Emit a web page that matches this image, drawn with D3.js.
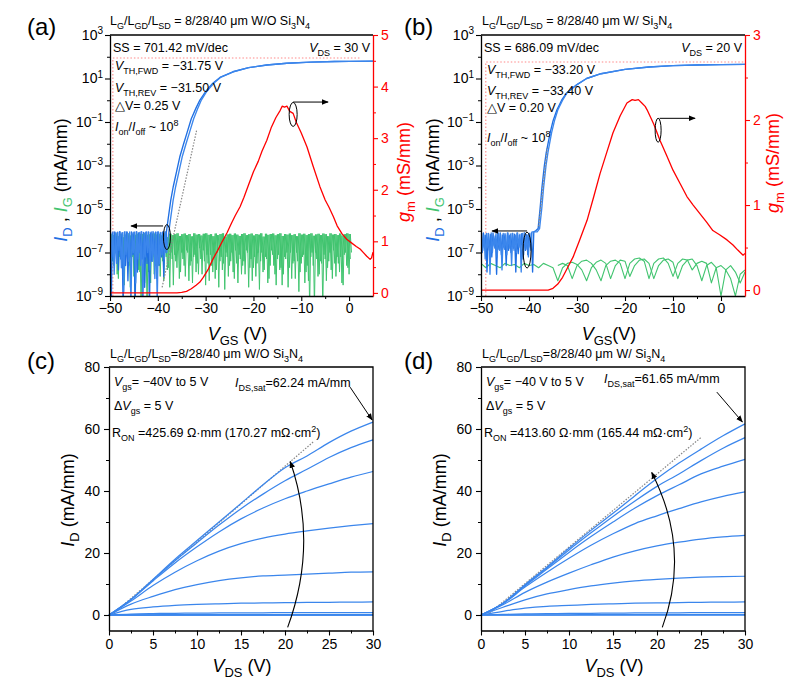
<!DOCTYPE html>
<html>
<head>
<meta charset="utf-8">
<script src="https://cdn.jsdelivr.net/npm/d3@7"></script>
<style>
  body { margin: 0; background: #fff; }
  svg { font-family: "Liberation Sans", Arial, sans-serif; }
</style>
</head>
<body>
<svg id="fig" width="809" height="684"></svg>
<script>
// ---------- data (log10 of current in mA/mm, gm in mS/mm) ----------
// (a) W/O Si3N4, VDS = 30 V
const idA_noiseFwd = [-6.05,-9.5,-6.1,-7.4,-6.05,-7.0,-6.08,-7.8,-6.04,-7.3,-6.1,-9.5,-6.06,-7.6,-6.05,-8.3,-6.12,-7.2,-6.05,-7.1,-6.07,-9.5,-6.04,-7.9,
  -6.1,-7.0,-6.05,-7.3,-6.08,-8.6,-6.06,-7.5,-6.05,-9.5,-6.1,-7.4,-6.04,-7.1,-6.07,-8.2,-6.05,-7.6,-6.1,-7.2,-6.06,-8.1,-6.05,-7.0];
const idA_noiseRev = [-6.08,-7.2,-6.05,-8.0,-6.1,-7.5,-6.06,-6.9,-6.05,-7.7,-6.09,-8.8,-6.04,-7.1,-6.07,-7.4,-6.05,-9.5,-6.1,-7.0,-6.06,-8.4,-6.05,-7.3,
  -6.08,-7.6,-6.04,-9.5,-6.1,-7.2,-6.05,-7.0,-6.07,-7.8,-6.05,-7.4,-6.1,-8.2,-6.06,-9.3,-6.05,-7.5,-6.08,-7.1,-6.05,-7.3,-6.06,-7.0];
const idA_riseFwd = [[-38.2,-6.05],[-37.8,-5.4],[-37.3,-4.6],[-36.8,-4.0],[-36,-3.2],[-35.4,-2.6],[-34.6,-2.0],[-33.9,-1.5],[-33,-0.85],[-32,-0.35],
  [-31.2,0.01],[-30,0.4],[-28.5,0.78],[-27,1.05],[-24.3,1.31],[-21,1.5],[-17.2,1.62],[-13,1.7],[-8,1.75],[-3,1.78],[0,1.79],[5,1.8]];
const idA_riseRev = [[-37.7,-6.05],[-37.3,-5.4],[-36.8,-4.6],[-36.3,-4.0],[-35.5,-3.2],[-34.9,-2.6],[-34.1,-2.0],[-33.4,-1.5],[-32.5,-0.85],[-31.6,-0.35],
  [-30.9,0.01],[-29.8,0.4],[-28.3,0.78],[-26.9,1.05],[-24.2,1.31],[-21,1.5],[-17.2,1.62],[-13,1.7],[-8,1.75],[-3,1.78],[0,1.79],[5,1.8]];
const igA_top = [-6.15,-6.2,-6.12,-6.25,-6.15,-6.3,-6.18,-6.12,-6.22,-6.16,
  -6.2,-6.14,-6.28,-6.15,-6.12,-6.2,-6.17,-6.25,-6.13,-6.18,
  -6.15,-6.22,-6.12,-6.18,-6.3,-6.14,-6.2,-6.16,-6.12,-6.24,
  -6.16,-6.13,-6.2,-6.15,-6.26,-6.12,-6.18,-6.15,-6.22,-6.14,
  -6.12,-6.19,-6.16,-6.25,-6.13,-6.2,-6.15,-6.12,-6.28,-6.17,
  -6.14,-6.2,-6.13,-6.18,-6.24,-6.15,-6.12,-6.2,-6.16,-6.13,
  -6.22,-6.15,-6.18,-6.12,-6.27,-6.14,-6.19,-6.15,-6.13,-6.21,
  -6.16,-6.12,-6.24,-6.15,-6.18,-6.13,-6.2,-6.16,-6.25,-6.12,
  -6.18,-6.14,-6.2,-6.15,-6.12,-6.23,-6.17,-6.14,-6.2,-6.13,
  -6.16,-6.25,-6.12,-6.18,-6.15,-6.2,-6.13,-6.22,-6.16,-6.12,-6.15];
const igA_botFwd = [-7.0,-7.6,-6.9,-8.2,-7.3,-7.8,-6.8,-7.5,-8.6,-7.2,
  -9.5,-7.1,-7.9,-6.9,-8.4,-9.5,-7.4,-7.0,-8.0,-7.3,
  -7.6,-6.8,-8.3,-7.2,-7.7,-7.0,-8.5,-7.4,-6.9,-7.9,
  -7.3,-8.1,-7.0,-7.6,-8.4,-7.1,-7.5,-6.8,-8.0,-7.4,
  -7.1,-8.3,-7.6,-6.9,-7.8,-8.6,-7.2,-7.5,-7.0,-8.1,
  -7.4,-7.9,-6.9,-8.4,-7.3,-7.6,-8.0,-7.0,-7.7,-8.3,
  -7.2,-7.5,-8.7,-7.0,-7.8,-7.3,-8.2,-6.9,-7.6,-8.5,
  -7.1,-7.7,-8.0,-7.3,-8.6,-7.0,-7.5,-8.2,-7.4,-7.9,
  -7.2,-8.4,-7.6,-9.5,-7.0,-9.5,-7.3,-8.0,-7.5,-7.1,
  -8.3,-7.4,-7.8,-6.9,-8.1,-7.5,-7.2,-8.5,-7.0,-7.7,
  -7.3,-8.0,-7.5,-6.9,-8.2,-7.4,-7.8,-7.1,-8.4,-7.6];
const igA_botRev = [-7.4,-6.9,-8.0,-7.2,-7.7,-8.5,-7.0,-7.6,-7.3,-8.1,
  -7.1,-7.8,-9.5,-7.3,-7.0,-7.9,-8.4,-7.2,-7.6,-6.9,
  -8.1,-7.4,-7.0,-7.8,-8.6,-7.3,-7.1,-7.7,-8.2,-7.0,
  -7.6,-6.9,-8.3,-7.4,-7.2,-7.9,-8.0,-7.3,-6.9,-8.5,
  -7.5,-7.1,-7.9,-8.2,-7.0,-7.4,-7.8,-8.7,-7.2,-7.6,
  -7.0,-8.2,-7.5,-7.1,-8.0,-7.4,-6.9,-8.6,-7.3,-7.7,
  -8.1,-7.0,-7.4,-7.9,-7.2,-8.4,-7.6,-7.1,-8.0,-7.3,
  -7.8,-8.5,-7.2,-7.0,-7.7,-8.2,-7.4,-7.0,-8.8,-7.5,
  -7.1,-7.9,-8.3,-7.2,-7.6,-7.0,-8.1,-7.4,-9.5,-7.3,
  -7.7,-7.0,-8.2,-7.5,-7.2,-7.9,-8.4,-7.1,-7.6,-8.0,
  -7.0,-7.5,-8.1,-7.3,-7.7,-7.0,-8.3,-7.4,-7.2,-7.9];
const gmA = [[-50,0],[-36,0],[-35,0.01],[-34,0.03],[-33,0.08],[-32,0.15],[-31.2,0.21],[-30.5,0.3],[-29.5,0.45],[-28.5,0.65],[-27.5,0.82],
  [-26.5,1.0],[-25.5,1.17],[-24.6,1.35],[-23.8,1.5],[-22.8,1.67],[-22,1.85],[-21,2.1],[-20,2.35],[-19,2.55],[-18.2,2.75],[-17.2,2.96],
  [-16.3,3.2],[-15.3,3.4],[-14.4,3.54],[-14,3.62],[-13.5,3.6],[-13,3.62],[-12.4,3.52],[-11.7,3.48],[-11,3.3],[-10,3.1],[-8.8,2.83],
  [-7.5,2.45],[-6.1,2.06],[-5,1.8],[-4.2,1.66],[-3.3,1.48],[-2.5,1.3],[-1.5,1.15],[-0.5,1.04],[0.5,0.97],[1.5,0.9],[2.3,0.85],
  [3,0.78],[3.7,0.71],[4.4,0.65],[4.7,0.68],[5,0.79]];
const ssLineA = [[-39.1,-8.6],[-31.9,-1.4]];
const ionGuideA = [[-49.4,-9],[-49.4,1.94],[2.3,1.94]];

// (b) W/ Si3N4, VDS = 20 V
const idB_noiseFwd = [-6.15,-7.0,-6.1,-6.8,-6.2,-7.9,-6.12,-6.9,-6.18,-7.2,-6.1,-6.7,-6.25,-8.0,-6.15,-6.85,-6.1,-7.1,-6.2,-6.75,-6.14,-7.6,
  -6.1,-6.9,-6.22,-7.0,-6.12,-6.8,-6.16,-7.9,-6.1,-7.05,-6.2,-6.8,-6.13,-7.3,-6.1,-6.9,-6.18,-7.1,-6.12,-6.75,-6.1,-7.9,-6.05];
const idB_noiseRev = [-6.1,-6.9,-6.2,-7.3,-6.12,-6.75,-6.15,-8.0,-6.1,-7.0,-6.22,-6.8,-6.13,-7.2,-6.1,-6.9,-6.18,-7.8,-6.12,-6.85,-6.2,-7.1,
  -6.1,-6.8,-6.15,-7.6,-6.12,-6.9,-6.2,-7.0,-6.1,-6.75,-6.16,-7.9,-6.12,-7.1,-6.1,-6.85,-6.2,-7.2,-6.12,-6.9,-6.05];
const idB_riseFwd = [[-38.6,-6.0],[-38.1,-5.9],[-37.7,-5.0],[-37.3,-4.0],[-36.8,-3.0],[-36.4,-2.4],[-35.6,-1.5],[-35,-0.95],[-34.2,-0.45],
  [-33.2,0.0],[-32.2,0.33],[-30,0.72],[-28,1.0],[-25,1.22],[-20,1.42],[-15,1.53],[-10,1.59],[-5,1.62],[0,1.64],[5,1.65]];
const idB_riseRev = [[-38.3,-6.05],[-37.8,-5.9],[-37.35,-5.0],[-36.95,-4.0],[-36.45,-3.0],[-36.05,-2.4],[-35.3,-1.5],[-34.7,-0.95],[-34.0,-0.45],
  [-33.0,0.0],[-32.1,0.33],[-30,0.72],[-28,1.0],[-25,1.22],[-20,1.42],[-15,1.53],[-10,1.59],[-5,1.62],[0,1.64],[5,1.65]];
const igB_fwd = [-7.5,-7.7,-7.5,-7.6,-7.7,-7.5,-7.6,-7.55,-7.7,-7.5,
  -7.6,-7.55,-7.7,-7.5,-7.6,-7.7,-8.3,-7.7,-7.5,-7.45,
  -7.55,-7.8,-8.3,-7.7,-7.45,-7.35,-7.5,-8.2,-7.6,-7.35,
  -7.4,-8.1,-7.6,-7.35,-7.3,-7.5,-8.2,-7.6,-7.35,-7.3,
  -7.45,-8.2,-7.6,-7.35,-7.3,-7.6,-8.3,-7.6,-7.45,-7.7,
  -9.0,-7.8,-7.6,-7.9,-8.4,-7.9];
const igB_rev = [-7.6,-7.5,-7.6,-8.2,-7.6,-7.4,-7.35,-7.5,-7.8,-8.3,-7.6,-7.4,-7.35,-7.5,-8.2,-7.5,-7.3,-7.25,-7.4,-8.2,
  -7.5,-7.3,-7.25,-7.5,-8.1,-7.5,-7.3,-7.35,-7.8,-7.5,-7.4,-7.5,-8.4,-7.7,-7.6,-7.8,-8.2,-9.0,-8.0,-7.8];
const gmB = [[-50,0],[-36,0],[-35,0.02],[-34,0.07],[-33,0.15],[-32,0.26],[-30.8,0.39],[-29.5,0.58],[-27.9,0.82],[-26.5,1.1],[-25.2,1.37],
  [-23.8,1.62],[-22.5,1.85],[-21,2.05],[-19.6,2.2],[-18.5,2.24],[-17.9,2.23],[-17.2,2.24],[-16.5,2.2],[-15.8,2.16],[-15.4,2.12],[-14,1.95],
  [-12.7,1.76],[-11.3,1.58],[-10,1.41],[-8.5,1.25],[-7.1,1.1],[-5.8,1.0],[-4.4,0.9],[-3,0.8],[-1.7,0.7],[-0.3,0.65],[1.25,0.59],
  [2.5,0.53],[3.5,0.47],[4.6,0.41],[5,0.43]];
const ssLineB = [[-38.0,-5.8],[-36.2,-2.2]];
const ionGuideB = [[-49,-9],[-49,1.76],[5,1.76]];

// (c), (d) output curves, VGS = 5 V (top) down to -40 V
const vdsPts = [0,2.5,5,7.5,10,12.5,15,17.5,20,22.5,25,27.5,30];
const idOutC = [
  [0,5,11.5,18,24,30,36,42,47.5,51.3,55.6,59.3,62.24],
  [0,5,11.3,17.5,23.3,29,34.3,39,43.3,47,50.8,54,56.5],
  [0,5,11,16.8,22,26.8,31,34.5,37.5,40,42.3,44.5,46.3],
  [0,4.5,9.5,13.8,17.5,20.6,23,24.8,26.1,27.1,28,28.8,29.5],
  [0,3.5,6,8.2,9.8,11.1,12,12.6,12.9,13.2,13.5,13.8,13.9],
  [0,1.8,2.6,3.1,3.4,3.6,3.8,3.9,4,4.05,4.1,4.15,4.2],
  [0,0.3,0.45,0.55,0.6,0.65,0.7,0.72,0.75,0.77,0.78,0.8,0.8],
  [0,0.05,0.08,0.1,0.1,0.1,0.12,0.12,0.12,0.12,0.12,0.12,0.12],
  [0,0,0,0,0,0,0,0,0,0,0,0,0],
  [0,0,0,0,0,0,0,0,0,0,0,0,0]];
const idOutD = [
  [0,3.8,9.8,15.5,21.5,27.3,32.8,38.5,44,49,53.5,57.8,61.65],
  [0,3.8,9.6,15.2,21,26.5,31.8,36.8,41.5,45.5,49.8,53.8,57.2],
  [0,3.7,9.4,14.8,20.2,25.3,30,34.5,38.5,42,45.5,48,50.2],
  [0,3.6,9,13.8,18.3,22.5,26.2,29.5,32,34.3,36.5,38.3,39.7],
  [0,3.3,7.3,10.6,13.5,16.2,18.7,20.7,22.3,23.5,24.5,25.2,25.7],
  [0,2.5,4.9,6.8,8.2,9.4,10.3,11,11.5,11.9,12.2,12.4,12.5],
  [0,1.2,2.2,2.8,3.1,3.4,3.6,3.8,3.9,4,4.1,4.15,4.2],
  [0,0.2,0.35,0.45,0.5,0.55,0.6,0.65,0.7,0.72,0.75,0.78,0.8],
  [0,0.03,0.05,0.07,0.08,0.09,0.1,0.1,0.1,0.1,0.1,0.1,0.1],
  [0,0,0,0,0,0,0,0,0,0,0,0,0]];
const ronLineC = [[0.3,0],[23.2,55.8]];
const ronLineD = [[0.7,0],[25.1,57.5]];

const logMajor = [1e-9,1e-7,1e-5,1e-3,1e-1,1e1,1e3];
const logMinor = [1e-8,1e-6,1e-4,1e-2,1,1e2];

// ---------- drawing ----------
const BLUE = '#1f6fe3', BLUE2 = '#3b86ec', GREEN = '#41c46f', RED = '#ff0000', PINK = '#ff8a8a';
const svg = d3.select('#fig');
svg.append('rect').attr('width', 809).attr('height', 684).attr('fill', '#fff');
const defs = svg.append('defs');
defs.append('marker').attr('id', 'arr').attr('viewBox', '0 0 10 10')
  .attr('refX', 9).attr('refY', 5).attr('markerWidth', 7).attr('markerHeight', 7)
  .attr('markerUnits', 'userSpaceOnUse').attr('orient', 'auto')
  .append('path').attr('d', 'M0,1 L10,5 L0,9 Z').attr('fill', '#000');

// tiny markup: *italic*, _{sub}, ^{sup}
function parse(str) {
  const segs = [];
  let i = 0, italic = false, buf = '';
  const push = (t, o) => { if (t) segs.push(Object.assign({ t: t, i: italic }, o || {})); };
  while (i < str.length) {
    const ch = str[i];
    if (ch === '*') { push(buf); buf = ''; italic = !italic; i++; }
    else if ((ch === '_' || ch === '^') && str[i + 1] === '{') {
      push(buf); buf = '';
      const j = str.indexOf('}', i);
      push(str.slice(i + 2, j), ch === '_' ? { sub: true } : { sup: true });
      i = j + 1;
    } else { buf += ch; i++; }
  }
  push(buf);
  return segs;
}

function rich(sel, segs, size) {
  let cur = 0;
  segs.forEach(s => {
    const shift = s.sub ? size * 0.3 : s.sup ? -size * 0.42 : 0;
    const ts = sel.append('tspan').text(s.t).attr('dy', shift - cur);
    cur = shift;
    if (s.sub || s.sup) ts.attr('font-size', size * 0.72);
    if (s.i) ts.attr('font-style', 'italic');
    if (s.c) ts.attr('fill', s.c);
  });
}

function addText(parent, x, y, str, size, opts) {
  opts = opts || {};
  const t = parent.append('text').attr('x', x).attr('y', y)
    .attr('font-size', size).attr('fill', opts.fill || '#000');
  if (opts.anchor) t.attr('text-anchor', opts.anchor);
  if (opts.rotate) t.attr('transform', `rotate(-90,${x},${y})`);
  rich(t, typeof str === 'string' ? parse(str) : str, size);
  return t;
}

function styleAxis(sel, color, fs) {
  sel.attr('font-family', null).attr('font-size', fs);
  sel.select('.domain').attr('stroke', color).attr('stroke-width', 1.3);
  sel.selectAll('.tick line').attr('stroke', color).attr('stroke-width', 1.1);
  sel.selectAll('.tick text').attr('fill', color);
}

function minorAxis(g, axis, tr, color) {
  g.append('g').attr('transform', tr).call(axis.tickFormat('').tickSizeOuter(0))
    .call(s => s.select('.domain').remove())
    .call(s => s.selectAll('.tick line').attr('stroke', color).attr('stroke-width', 1));
}

// zig-zag noise: alternating high / low samples starting at v0, spaced by step
const noisePts = (arr, v0, step) => arr.map((v, i) => [v0 + i * step, v]);
const interleave = (top, bot, v0, step) => {
  const out = [];
  top.forEach((t, i) => {
    out.push([v0 + i * step, t]);
    if (i < bot.length) out.push([v0 + i * step + step / 2, bot[i]]);
  });
  return out;
};

function transferPanel(o) {
  const x = d3.scaleLinear().domain([-50, 5]).range([o.x0, o.x1]);
  const y = d3.scaleLog().domain([1e-9, 1e3]).range([o.y1, o.y0]);
  const yg = d3.scaleLinear().domain(o.gmDomain).range([o.y1, o.y0]);
  const logLine = d3.line().x(d => x(d[0])).y(d => y(Math.pow(10, d[1])));
  const gmLine = d3.line().x(d => x(d[0])).y(d => yg(d[1]));
  const g = svg.append('g');
  defs.append('clipPath').attr('id', 'clip' + o.id).append('rect')
    .attr('x', o.x0).attr('y', o.y0).attr('width', o.x1 - o.x0).attr('height', o.y1 - o.y0);
  const plot = g.append('g').attr('clip-path', `url(#clip${o.id})`);

  plot.append('path').attr('d', logLine(o.ionGuide)).attr('fill', 'none')
    .attr('stroke', PINK).attr('stroke-width', 1.1).attr('stroke-dasharray', '1.5,2');

  o.gate.forEach(pts => plot.append('path').attr('d', logLine(pts)).attr('fill', 'none')
    .attr('stroke', GREEN).attr('stroke-width', o.gateW).attr('stroke-linejoin', 'round'));
  o.drain.forEach((pts, k) => plot.append('path').attr('d', logLine(pts)).attr('fill', 'none')
    .attr('stroke', k ? BLUE2 : BLUE).attr('stroke-width', 1.35).attr('stroke-linejoin', 'round'));
  plot.append('path').attr('d', logLine(o.ssLine)).attr('fill', 'none')
    .attr('stroke', '#888').attr('stroke-width', 1.2).attr('stroke-dasharray', '1.5,1.5');
  plot.append('path').attr('d', gmLine(o.gm)).attr('fill', 'none')
    .attr('stroke', RED).attr('stroke-width', 1.3).attr('stroke-linejoin', 'round');

  // axes
  const xb = `translate(0,${o.y1})`;
  g.append('g').attr('transform', xb)
    .call(d3.axisBottom(x).tickValues([-50, -40, -30, -20, -10, 0]).tickSize(5).tickSizeOuter(0).tickPadding(2))
    .call(s => styleAxis(s, '#000', 14));
  minorAxis(g, d3.axisBottom(x).tickValues([-45, -35, -25, -15, -5]).tickSize(3), xb, '#000');

  const yl = `translate(${o.x0},0)`;
  g.append('g').attr('transform', yl)
    .call(d3.axisLeft(y).tickValues(logMajor).tickSize(5).tickSizeOuter(0).tickPadding(2).tickFormat(''))
    .call(s => styleAxis(s, '#000', 14))
    .call(s => s.selectAll('.tick text').each(function (d) {
      const e = Math.round(Math.log10(d));
      const t = d3.select(this).text('');
      t.append('tspan').text('10');
      t.append('tspan').attr('dy', '-0.55em').attr('font-size', 10).text(e < 0 ? '\u2212' + (-e) : String(e));
    }));
  minorAxis(g, d3.axisLeft(y).tickValues(logMinor).tickSize(3), yl, '#000');

  const yr = `translate(${o.x1},0)`;
  g.append('g').attr('transform', yr)
    .call(d3.axisRight(yg).tickValues(o.gmMajor).tickSize(5).tickSizeOuter(0).tickPadding(3).tickFormat(d3.format('d')))
    .call(s => styleAxis(s, RED, 14));
  minorAxis(g, d3.axisRight(yg).tickValues(o.gmMinor).tickSize(3), yr, RED);

  g.append('line').attr('x1', o.x0).attr('x2', o.x1).attr('y1', o.y0).attr('y2', o.y0)
    .attr('stroke', '#000').attr('stroke-width', 1.3);

  // ellipse + arrow markers
  const ea = o.ellD, er = o.ellG;
  g.append('ellipse').attr('cx', x(ea.c[0])).attr('cy', y(Math.pow(10, ea.c[1])))
    .attr('rx', ea.rx).attr('ry', ea.ry).attr('fill', 'none').attr('stroke', '#000').attr('stroke-width', 1);
  g.append('line').attr('x1', x(ea.from[0])).attr('y1', y(Math.pow(10, ea.from[1])))
    .attr('x2', x(ea.to[0])).attr('y2', y(Math.pow(10, ea.to[1])))
    .attr('stroke', '#000').attr('stroke-width', 1).attr('marker-end', 'url(#arr)');
  g.append('ellipse').attr('cx', x(er.c[0])).attr('cy', yg(er.c[1]))
    .attr('rx', er.rx).attr('ry', er.ry).attr('fill', 'none').attr('stroke', '#000').attr('stroke-width', 1);
  g.append('line').attr('x1', x(er.from[0])).attr('y1', yg(er.from[1]))
    .attr('x2', x(er.to[0])).attr('y2', yg(er.to[1]))
    .attr('stroke', '#000').attr('stroke-width', 1).attr('marker-end', 'url(#arr)');

  // texts
  o.notes.forEach(n => addText(g, n.x, n.y, n.s, 12.5, { anchor: n.a }));
  addText(g, o.titleX, 25, o.title, 12.5);
  addText(g, o.letterX, 35, o.letter, 24);
  addText(g, (o.x0 + o.x1) / 2 - 4, 340, o.xLabel, 18, { anchor: 'middle' });
  addText(g, o.yLabelX, 180, [
    { t: 'I', i: true, c: BLUE }, { t: 'D', sub: true, c: BLUE }, { t: ' , ' },
    { t: 'I', i: true, c: GREEN }, { t: 'G', sub: true, c: GREEN }, { t: ' (mA/mm)' }], 18, { anchor: 'middle', rotate: true });
  addText(g, o.gmLabelX, o.gmLabelY, '*g*_{m} (mS/mm)', 18, { anchor: 'middle', rotate: true, fill: RED });
}

function outputPanel(o) {
  const x = d3.scaleLinear().domain([0, 30]).range([o.x0, o.x1]);
  const y = d3.scaleLinear().domain([-5, 80]).range([o.y1, o.y0]);
  const g = svg.append('g');
  const line = d3.line().x(d => x(d[0])).y(d => y(d[1]));
  const curve = d3.line().x((d, i) => x(vdsPts[i])).y(d => y(d)).curve(d3.curveMonotoneX);

  g.append('path').attr('d', line(o.ron)).attr('fill', 'none')
    .attr('stroke', '#888').attr('stroke-width', 1.2).attr('stroke-dasharray', '1.5,1.5');
  o.curves.forEach(c => g.append('path').attr('d', curve(c)).attr('fill', 'none')
    .attr('stroke', BLUE2).attr('stroke-width', 1.25));

  const xb = `translate(0,${o.y1})`;
  g.append('g').attr('transform', xb)
    .call(d3.axisBottom(x).tickValues([0, 5, 10, 15, 20, 25, 30]).tickSize(5).tickSizeOuter(0).tickPadding(4))
    .call(s => styleAxis(s, '#000', 14));
  minorAxis(g, d3.axisBottom(x).tickValues([2.5, 7.5, 12.5, 17.5, 22.5, 27.5]).tickSize(3), xb, '#000');
  const yl = `translate(${o.x0},0)`;
  g.append('g').attr('transform', yl)
    .call(d3.axisLeft(y).tickValues([0, 20, 40, 60, 80]).tickSize(5).tickSizeOuter(0).tickPadding(4))
    .call(s => styleAxis(s, '#000', 14));
  minorAxis(g, d3.axisLeft(y).tickValues([10, 30, 50, 70]).tickSize(3), yl, '#000');
  g.append('path').attr('d', `M${o.x0},${o.y0}H${o.x1}V${o.y1}`).attr('fill', 'none')
    .attr('stroke', '#000').attr('stroke-width', 1.3);

  // curved Vgs arrow and Idsat arrow
  const a = o.arc;
  g.append('path').attr('d', `M${x(a.from[0])},${y(a.from[1])}Q${x(a.ctrl[0])},${y(a.ctrl[1])} ${x(a.to[0])},${y(a.to[1])}`)
    .attr('fill', 'none').attr('stroke', '#000').attr('stroke-width', 1.1).attr('marker-end', 'url(#arr)');
  g.append('line').attr('x1', x(o.satArrow[0][0])).attr('y1', y(o.satArrow[0][1]))
    .attr('x2', x(o.satArrow[1][0])).attr('y2', y(o.satArrow[1][1]))
    .attr('stroke', '#000').attr('stroke-width', 1).attr('marker-end', 'url(#arr)');

  o.notes.forEach(n => addText(g, n.x, n.y, n.s, 12.5));
  addText(g, o.titleX, 358, o.title, 12.5);
  addText(g, o.letterX, 369, o.letter, 24);
  addText(g, (o.x0 + o.x1) / 2 + 1, 672, '*V*_{DS} (V)', 18, { anchor: 'middle' });
  addText(g, o.yLabelX, 500, o.yLabel, 18, { anchor: 'middle', rotate: true });
}

transferPanel({
  id: 'a', x0: 110, x1: 373, y0: 35, y1: 296,
  gmDomain: [-0.06, 5], gmMajor: [0, 1, 2, 3, 4, 5], gmMinor: [0.5, 1.5, 2.5, 3.5, 4.5],
  ionGuide: ionGuideA, ssLine: ssLineA, gm: gmA, gateW: 1,
  gate: [interleave(igA_top, igA_botFwd, -50, 0.5), interleave(igA_top, igA_botRev, -49.75, 0.5)],
  drain: [noisePts(idA_noiseFwd, -50, 0.25).concat(idA_riseFwd), noisePts(idA_noiseRev, -49.875, 0.25).concat(idA_riseRev)],
  ellD: { c: [-38.1, -6.29], rx: 3.5, ry: 12.5, from: [-38.9, -5.78], to: [-45.6, -5.78] },
  ellG: { c: [-11.7, 3.46], rx: 4, ry: 12, from: [-11.7, 3.7], to: [-4.4, 3.7] },
  notes: [
    { x: 113, y: 52, s: 'SS = 701.42 mV/dec' },
    { x: 370, y: 52, s: '*V*_{DS} = 30 V', a: 'end' },
    { x: 115, y: 70, s: '*V*_{TH,FWD} = \u221231.75 V' },
    { x: 115, y: 92, s: '*V*_{TH,REV} = \u221231.50 V' },
    { x: 115, y: 110, s: '\u25B3V= 0.25 V' },
    { x: 115, y: 131, s: '*I*_{on}/*I*_{off} ~ 10^{8}' }],
  title: 'L_{G}/L_{GD}/L_{SD} = 8/28/40 \u03BCm W/O Si_{3}N_{4}', titleX: 110,
  letter: '(a)', letterX: 27, xLabel: '*V*_{GS} (V)',
  yLabelX: 67, gmLabelX: 410, gmLabelY: 172
});

transferPanel({
  id: 'b', x0: 481, x1: 745, y0: 35, y1: 296,
  gmDomain: [-0.07, 3], gmMajor: [0, 1, 2, 3], gmMinor: [0.5, 1.5, 2.5],
  ionGuide: ionGuideB, ssLine: ssLineB, gm: gmB, gateW: 1.1,
  gate: [noisePts(igB_fwd, -50, 1), noisePts(igB_rev, -34, 1)],
  drain: [noisePts(idB_noiseFwd, -50, 0.25).concat(idB_riseFwd), noisePts(idB_noiseRev, -49.875, 0.25).concat(idB_riseRev)],
  ellD: { c: [-40.4, -6.89], rx: 4, ry: 18, from: [-40.4, -6.01], to: [-47.7, -6.01] },
  ellG: { c: [-13.1, 1.88], rx: 3, ry: 12, from: [-12.8, 2.02], to: [-5.4, 2.02] },
  notes: [
    { x: 484, y: 52, s: 'SS = 686.09 mV/dec' },
    { x: 742, y: 52, s: '*V*_{DS} = 20 V', a: 'end' },
    { x: 487, y: 74, s: '*V*_{TH,FWD} = \u221233.20 V' },
    { x: 487, y: 95, s: '*V*_{TH,REV} = \u221233.40 V' },
    { x: 487, y: 112, s: '\u25B3V = 0.20 V' },
    { x: 487, y: 142, s: '*I*_{on}/*I*_{off} ~ 10^{8}' }],
  title: 'L_{G}/L_{GD}/L_{SD} = 8/28/40 \u03BCm W/ Si_{3}N_{4}', titleX: 482,
  letter: '(b)', letterX: 404, xLabel: '*V*_{GS}(V)',
  yLabelX: 439, gmLabelX: 779, gmLabelY: 163
});

outputPanel({
  x0: 109, x1: 373, y0: 367, y1: 630.5, curves: idOutC, ron: ronLineC,
  arc: { from: [20.3, -4], ctrl: [23.8, 23], to: [20.6, 49.5] },
  satArrow: [[27.4, 73.5], [29.9, 62.9]],
  notes: [
    { x: 114, y: 386, s: '*V*_{gs}= \u221240V to 5 V' },
    { x: 114, y: 410, s: '\u0394*V*_{gs} = 5 V' },
    { x: 112, y: 437, s: 'R_{ON} =425.69 \u03A9\u00B7mm (170.27 m\u03A9\u00B7cm^{2})' },
    { x: 235, y: 387, s: '*I*_{DS,sat}=62.24 mA/mm' }],
  title: 'L_{G}/L_{GD}/L_{SD}=8/28/40 \u03BCm W/O Si_{3}N_{4}', titleX: 110,
  letter: '(c)', letterX: 27, yLabel: '*I*_{D} (mA/mm)', yLabelX: 74
});

outputPanel({
  x0: 481, x1: 745, y0: 367, y1: 630.5, curves: idOutD, ron: ronLineD,
  arc: { from: [20.6, -4], ctrl: [23.9, 21], to: [19.4, 46] },
  satArrow: [[26.8, 71.9], [29.7, 62.3]],
  notes: [
    { x: 486, y: 386, s: '*V*_{gs}= \u221240 V to 5 V' },
    { x: 486, y: 410, s: '\u0394*V*_{gs} = 5 V' },
    { x: 484, y: 437, s: 'R_{ON} =413.60 \u03A9\u00B7mm (165.44 m\u03A9\u00B7cm^{2})' },
    { x: 604, y: 383, s: '*I*_{DS,sat}=61.65 mA/mm' }],
  title: 'L_{G}/L_{GD}/L_{SD}=8/28/40 \u03BCm W/ Si_{3}N_{4}', titleX: 482,
  letter: '(d)', letterX: 404, yLabel: '*I*_{D} (mA/mm)', yLabelX: 446
});
</script>
</body>
</html>
